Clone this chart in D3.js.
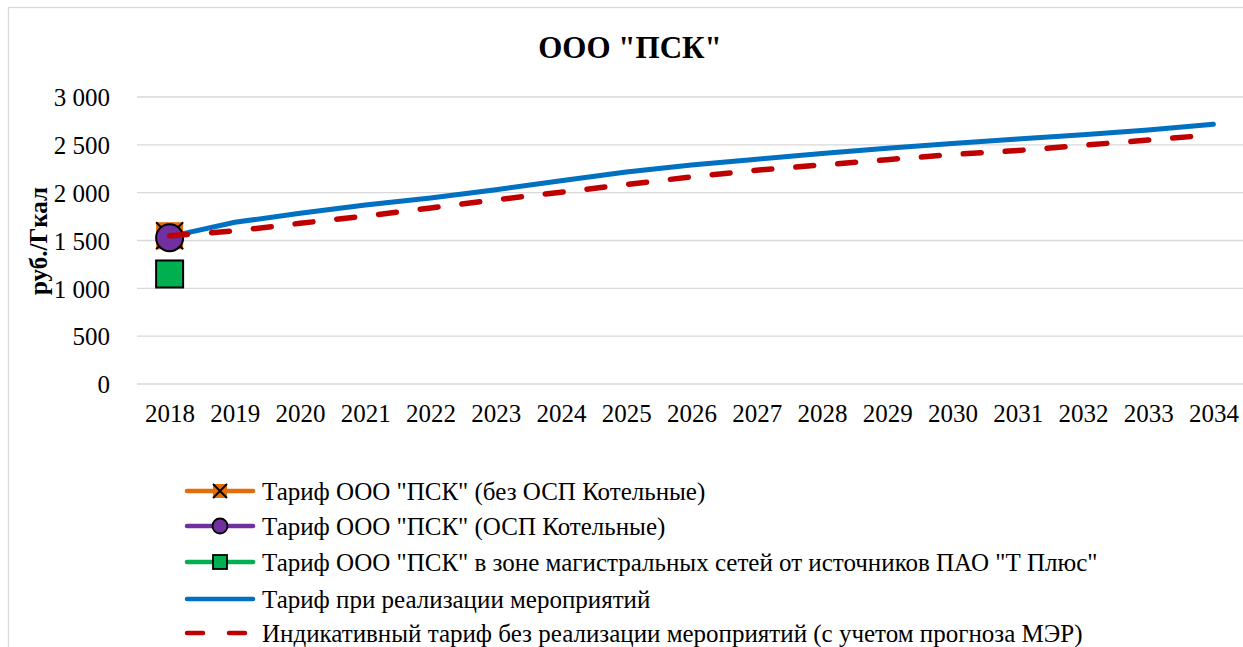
<!DOCTYPE html>
<html style="font-family: 'Times New Roman', 'Liberation Serif', serif">
<meta charset="utf-8">
<body style="margin:0">
<script src="https://d3js.org/d3.v7.min.js"></script>
<script>

// categories
var years = ["2018","2019","2020","2021","2022","2023","2024","2025","2026",
             "2027","2028","2029","2030","2031","2032","2033","2034"];

// series values
var tariffWithMeasures = [1540, 1690, 1785, 1870, 1945, 2030, 2125, 2215, 2290,
                          2350, 2410, 2465, 2515, 2560, 2605, 2655, 2715];
var indicativeTariff   = [1550, 1600, 1680, 1755, 1840, 1925, 2005, 2085, 2165,
                          2235, 2290, 2345, 2400, 2440, 2495, 2550, 2605];
var tariffNoOsp   = [1550];   // 2018 only
var tariffOsp     = [1530];
var tariffTPlus   = [1150];

var yTicks = [0, 500, 1000, 1500, 2000, 2500, 3000];

var legendLabels = [
  'Тариф ООО "ПСК" (без ОСП Котельные)',
  'Тариф ООО "ПСК" (ОСП Котельные)',
  'Тариф ООО "ПСК" в зоне магистральных сетей от источников ПАО "Т Плюс"',
  'Тариф при реализации мероприятий',
  'Индикативный тариф без реализации мероприятий (с учетом прогноза МЭР)'
];

var FONT = "Times New Roman";
var W = 1243, H = 647;
var margin = {top: 97, left: 137, bottom: 263},
    plotW = 1109,
    plotH = H - margin.top - margin.bottom;

var svg = d3.select("body").append("svg")
    .attr("width", W).attr("height", H)
    .attr("font-family", FONT)
    .style("font-family", FONT);

// chart border
svg.append("rect")
    .attr("x", 8.5).attr("y", 7.5)
    .attr("width", 1260).attr("height", 700)
    .attr("fill", "none").attr("stroke", "#d9d9d9").attr("stroke-width", 1.3);

function label(sel, size) {
  return sel.attr("font-family", FONT).style("font-family", FONT)
            .attr("font-size", size).attr("fill", "#000");
}

// title
label(svg.append("text"), 31)
    .attr("x", 630).attr("y", 58)
    .attr("text-anchor", "middle")
    .attr("font-weight", "bold")
    .text('ООО "ПСК"');

var g = svg.append("g")
    .attr("transform", "translate(" + margin.left + "," + margin.top + ")");

var x = d3.scalePoint().domain(years).range([0, plotW]).padding(0.5);
var y = d3.scaleLinear().domain([0, 3000]).range([plotH, 0]);

// grid
g.append("g")
  .selectAll("line").data(yTicks).enter().append("line")
    .attr("x1", 0).attr("x2", plotW)
    .attr("y1", function(d) { return y(d); })
    .attr("y2", function(d) { return y(d); })
    .attr("stroke", "#d9d9d9").attr("stroke-width", 1.3);

// y axis
var fmt = function(d) { return d3.format(",")(d).replace(/,/g, " "); };
var ya = g.append("g")
    .attr("transform", "translate(-24,0)")
    .call(d3.axisLeft(y).tickValues(yTicks).tickFormat(fmt).tickSize(0));
ya.attr("font-family", FONT).attr("font-size", 25);
ya.select(".domain").remove();
label(ya.selectAll("text"), 25).attr("dy", "0.35em");

// x axis
var xa = g.append("g")
    .attr("transform", "translate(0," + plotH + ")")
    .call(d3.axisBottom(x).tickSize(0).tickPadding(20));
xa.attr("font-family", FONT).attr("font-size", 25);
xa.select(".domain").remove();
label(xa.selectAll("text"), 25);

// y title
label(svg.append("text"), 25)
    .attr("transform", "translate(47,241) rotate(-90)")
    .attr("text-anchor", "middle")
    .attr("font-weight", "bold")
    .text("руб./Гкал");

var line = d3.line()
    .x(function(d, i) { return x(years[i]); })
    .y(function(d) { return y(d); });

g.append("path").datum(tariffWithMeasures)
    .attr("d", line).attr("fill", "none")
    .attr("stroke", "#0070C0").attr("stroke-width", 5)
    .attr("stroke-linecap", "round");

// single-point markers for 2018
var sq = 27;
tariffNoOsp.forEach(function(v, i) {
  var cx = x(years[i]), cy = y(v);
  g.append("rect").attr("x", cx - sq/2).attr("y", cy - sq/2)
    .attr("width", sq).attr("height", sq).attr("fill", "#E46C0A");
  g.append("path")
    .attr("d", "M" + (cx - sq/2) + "," + (cy - sq/2) + "L" + (cx + sq/2) + "," + (cy + sq/2) +
               "M" + (cx + sq/2) + "," + (cy - sq/2) + "L" + (cx - sq/2) + "," + (cy + sq/2))
    .attr("stroke", "#000").attr("stroke-width", 2);
});
tariffOsp.forEach(function(v, i) {
  g.append("circle").attr("cx", x(years[i])).attr("cy", y(v)).attr("r", 13.5)
    .attr("fill", "#7030A0").attr("stroke", "#000").attr("stroke-width", 2);
});
tariffTPlus.forEach(function(v, i) {
  g.append("rect").attr("x", x(years[i]) - sq/2).attr("y", y(v) - sq/2)
    .attr("width", sq).attr("height", sq)
    .attr("fill", "#00B050").attr("stroke", "#000").attr("stroke-width", 2);
});

g.append("path").datum(indicativeTariff)
    .attr("d", line).attr("fill", "none")
    .attr("stroke", "#C00000").attr("stroke-width", 5.5)
    .attr("stroke-linecap", "round")
    .attr("stroke-dasharray", "18,24");

// legend
var legY = [491, 526, 562, 599, 633];
var lg = svg.append("g");
legendLabels.forEach(function(t, i) {
  var yy = legY[i];
  var col = ["#E46C0A", "#7030A0", "#00B050", "#0070C0", "#C00000"][i];
  var ln = lg.append("line").attr("x1", 187).attr("x2", 253)
    .attr("y1", yy).attr("y2", yy)
    .attr("stroke", col).attr("stroke-width", 4.5).attr("stroke-linecap", "round");
  if (i === 4) ln.attr("stroke-dasharray", "16,26");
  if (i === 0) {
    lg.append("rect").attr("x", 213).attr("y", yy - 7).attr("width", 14).attr("height", 14)
      .attr("fill", "#E46C0A");
    lg.append("path")
      .attr("d", "M213," + (yy - 7) + "L227," + (yy + 7) + "M227," + (yy - 7) + "L213," + (yy + 7))
      .attr("stroke", "#000").attr("stroke-width", 1.8);
  } else if (i === 1) {
    lg.append("circle").attr("cx", 220).attr("cy", yy).attr("r", 7.5)
      .attr("fill", "#7030A0").attr("stroke", "#000").attr("stroke-width", 1.8);
  } else if (i === 2) {
    lg.append("rect").attr("x", 213).attr("y", yy - 7).attr("width", 14).attr("height", 14)
      .attr("fill", "#00B050").attr("stroke", "#000").attr("stroke-width", 1.8);
  }
  label(lg.append("text"), 25).attr("x", 262).attr("y", yy).attr("dy", "0.35em").text(t);
});

</script>
</body>
</html>
